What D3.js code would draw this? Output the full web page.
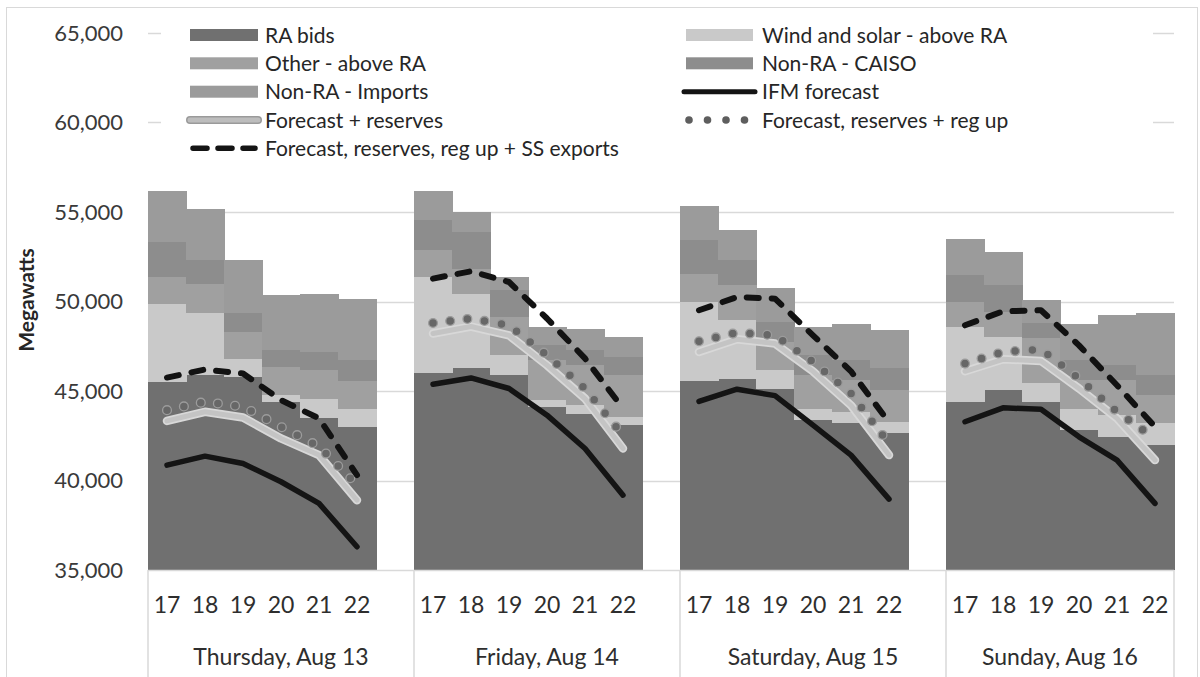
<!DOCTYPE html>
<html><head><meta charset="utf-8">
<script src="https://cdn.jsdelivr.net/npm/d3@7"></script>
<style>html,body{margin:0;padding:0;background:#fff}svg{display:block;font-family:Lato,"Open Sans",sans-serif}</style>
</head><body><div id="chart"></div>
<script>
// ---------------- data ----------------
const days = ["Thursday, Aug 13", "Friday, Aug 14", "Saturday, Aug 15", "Sunday, Aug 16"];
const hours = ["17", "18", "19", "20", "21", "22"];
const yTicks = [35000, 40000, 45000, 50000, 55000, 60000, 65000];

// stacked bar series (MW), order: Thu 17-22, Fri 17-22, Sat 17-22, Sun 17-22
const raBids       = [45510,45920,45770,44390,43510,43000, 46010,46290,45880,44110,43740,43090, 45550,45660,45100,43370,43190,42630, 44390,45040,44390,42810,42440,41980];
const windSolar    = [4370,3440,1000,380,1030,980,   5340,4150,1120,380,470,460,   4420,3290,1060,610,650,650,   4190,2980,1030,1170,1210,1210];
const otherAboveRA = [1490,1640,1510,1580,1620,1570, 1510,1390,2120,2230,2230,2330, 1590,1950,1560,1900,1760,1760, 1390,1390,2530,1620,1950,1580];
const nonRaCaiso   = [1950,1300,1060,930,1020,1170,  1670,2050,1500,840,840,1010,  1850,1400,1120,1120,1120,1230, 1490,1490,830,1120,840,1110];
const nonRaImports = [2830,2880,3000,3070,3260,3400, 1620,1120,750,1020,1170,1130,  1920,1670,1910,1580,2050,2120, 2050,1860,1330,2050,2830,3450];

// line series (MW)
const ifmForecast       = [40860,41360,40950,39930,38720,36300, 45380,45730,45140,43650,41790,39180, 44420,45100,44740,43090,41420,38960, 43280,44060,43980,42440,41140,38720];
const forecastReserves  = [43330,43840,43520,42350,41420,38900, 48210,48600,48110,46440,44580,41790, 47180,47890,47650,46100,44200,41420, 46100,46770,46680,45140,43470,41140];
const forecastRegUp     = [43930,44400,44120,43000,41900,39740, 48800,49050,48670,47000,45140,42530, 47780,48260,48110,46630,44860,42070, 46530,47180,47330,45700,43840,42350];
const forecastSSExports = [45750,46200,45980,44490,43470,40300, 51280,51690,51090,49050,46820,44030, 49510,50250,50160,48110,46100,43250, 48670,49450,49510,47550,45320,43000];

const barNames = ["RA bids", "Wind and solar - above RA", "Other - above RA", "Non-RA - CAISO", "Non-RA - Imports"];
const lineNames = ["IFM forecast", "Forecast + reserves", "Forecast, reserves + reg up", "Forecast, reserves, reg up + SS exports"];

// ---------------- setup ----------------
const W = 1200, H = 677;
const svg = d3.select("#chart").append("svg").attr("width", W).attr("height", H);
svg.append("rect").attr("width", W).attr("height", H).attr("fill", "#fff");
svg.append("rect").attr("x", 6.5).attr("y", 7.5).attr("width", 1191).attr("height", 700)
  .attr("fill", "none").attr("stroke", "#d9d9d9");

const plotL = 148, plotR = 1174, plotT = 33, plotB = 570;

// category slots: 6 hours per day, one blank slot between days
const slots = [];
days.forEach((d, di) => {
  hours.forEach(h => slots.push(di + "|" + h));
  if (di < days.length - 1) slots.push("gap" + di);
});
const x = d3.scaleBand().domain(slots).range([plotL, plotR]).padding(0);
const bw = x.bandwidth();
const y = d3.scaleLinear().domain([35000, 65000]).range([plotB, plotT]).clamp(true);

const rows = [];
days.forEach((d, di) => hours.forEach((h, hi) => {
  const i = di * 6 + hi;
  rows.push({key: di + "|" + h, di, hi, hour: h, ra: raBids[i], ws: windSolar[i], other: otherAboveRA[i], caiso: nonRaCaiso[i], imports: nonRaImports[i]});
}));
const barKeys = ["ra", "ws", "other", "caiso", "imports"];
const barColors = ["#707070", "#c9c9c9", "#a0a0a0", "#8d8d8d", "#9b9b9b"];

// gridlines
svg.append("g").selectAll("line").data(yTicks.filter(t => t > 35000)).join("line")
  .attr("x1", plotL).attr("x2", plotR).attr("y1", d => Math.round(y(d)) + 0.5).attr("y2", d => Math.round(y(d)) + 0.5)
  .attr("stroke", "#d9d9d9").attr("stroke-width", 1.5);

// bars
const stacked = d3.stack().keys(barKeys)(rows);
const gBars = svg.append("g").attr("shape-rendering", "crispEdges");
stacked.forEach((layer, li) => {
  gBars.append("g").attr("fill", barColors[li]).selectAll("rect").data(layer).join("rect")
    .attr("x", d => x(d.data.key)).attr("width", bw + 0.6)
    .attr("y", d => y(d[1])).attr("height", d => Math.max(0, y(d[0]) - y(d[1])));
});

// axis line + separators
svg.append("line").attr("x1", plotL).attr("x2", plotR).attr("y1", plotB + 0.5).attr("y2", plotB + 0.5)
  .attr("stroke", "#d9d9d9").attr("stroke-width", 1.5);
const sepX = [plotL].concat(days.slice(1).map((d, di) => x((di + 1) + "|" + hours[0])), [plotR]);
svg.append("g").selectAll("line").data(sepX).join("line")
  .attr("x1", d => d).attr("x2", d => d).attr("y1", plotB).attr("y2", H)
  .attr("stroke", "#d9d9d9").attr("stroke-width", 1.5);

// y tick labels
svg.append("g").selectAll("text").data(yTicks).join("text")
  .attr("x", 123).attr("y", d => y(d)).attr("dy", "0.36em").attr("text-anchor", "end")
  .attr("font-size", 22).attr("fill", "#3a3a3a").text(d => d3.format(",")(d));

// y title
svg.append("text").attr("transform", "translate(34,300) rotate(-90)").attr("text-anchor", "middle")
  .attr("font-size", 21).attr("font-weight", "bold").attr("fill", "#262626").text("Megawatts");

// hour labels
svg.append("g").selectAll("text").data(rows).join("text")
  .attr("x", d => x(d.key) + bw / 2).attr("y", 613).attr("text-anchor", "middle")
  .attr("font-size", 23).attr("fill", "#2e2e2e").text(d => d.hour);

// day labels
svg.append("g").selectAll("text").data(days).join("text")
  .attr("x", (d, i) => (sepX[i] + sepX[i + 1]) / 2).attr("y", 665).attr("text-anchor", "middle")
  .attr("font-size", 23).attr("fill", "#2e2e2e").text(d => d);

// lines
const line = d3.line().x(d => d[0]).y(d => d[1]);
function dayPts(vals, di) {
  return hours.map((h, hi) => [x(di + "|" + h) + bw / 2, y(vals[di * 6 + hi])]);
}
const gLines = svg.append("g").attr("fill", "none").attr("stroke-linejoin", "round");
days.forEach((d, di) => {
  // Forecast + reserves (light band with soft rim)
  gLines.append("path").attr("d", line(dayPts(forecastReserves, di))).attr("stroke", "#d8d8d8").attr("stroke-width", 8.5).attr("stroke-linecap", "round");
  gLines.append("path").attr("d", line(dayPts(forecastReserves, di))).attr("stroke", "#c4c4c4").attr("stroke-width", 5).attr("stroke-linecap", "round");
  // IFM forecast
  gLines.append("path").attr("d", line(dayPts(ifmForecast, di))).attr("stroke", "#141414").attr("stroke-width", 5.5).attr("stroke-linecap", "round");
  // reg up: round dots placed along the line
  const p = gLines.append("path").attr("d", line(dayPts(forecastRegUp, di))).attr("stroke", "none");
  const node = p.node(), len = node.getTotalLength();
  const dots = [];
  for (let s = 0; s <= len + 0.5; s += 17.3) { const pt = node.getPointAtLength(Math.min(s, len)); dots.push(pt); }
  gLines.append("g").selectAll("circle").data(dots).join("circle")
    .attr("cx", q => q.x).attr("cy", q => q.y).attr("r", 4.4)
    .attr("fill", "#676767").attr("stroke", "#9c9c9c").attr("stroke-width", 1.3);
  // SS exports dashed
  gLines.append("path").attr("d", line(dayPts(forecastSSExports, di))).attr("stroke", "#121212").attr("stroke-width", 6)
    .attr("stroke-linecap", "round").attr("stroke-dasharray", "12,13");
});

// ---------------- legend ----------------
svg.append("rect").attr("x", 161).attr("y", 14).attr("width", 992).attr("height", 152).attr("fill", "#fff");
const rowY = [35, 63.3, 91.7, 120, 148.3];
const legendItems = [
  {name: barNames[0], type: "bar", color: barColors[0], col: 0, row: 0},
  {name: barNames[1], type: "bar", color: barColors[1], col: 1, row: 0},
  {name: barNames[2], type: "bar", color: barColors[2], col: 0, row: 1},
  {name: barNames[3], type: "bar", color: barColors[3], col: 1, row: 1},
  {name: barNames[4], type: "bar", color: barColors[4], col: 0, row: 2},
  {name: lineNames[0], type: "ifm", col: 1, row: 2},
  {name: lineNames[1], type: "fr", col: 0, row: 3},
  {name: lineNames[2], type: "dot", col: 1, row: 3},
  {name: lineNames[3], type: "dash", col: 0, row: 4}
];
const colX = [{s0: 190, s1: 258, t: 265}, {s0: 686, s1: 753, t: 762}];
const gLeg = svg.append("g");
legendItems.forEach(it => {
  const c = colX[it.col], yy = rowY[it.row];
  const g = gLeg.append("g");
  if (it.type === "bar") {
    g.append("rect").attr("x", c.s0).attr("y", yy - 6).attr("width", c.s1 - c.s0).attr("height", 12).attr("fill", it.color);
  } else if (it.type === "ifm") {
    g.append("line").attr("x1", c.s0 - 2).attr("x2", c.s1 + 2).attr("y1", yy).attr("y2", yy).attr("stroke", "#141414").attr("stroke-width", 5).attr("stroke-linecap", "round");
  } else if (it.type === "fr") {
    g.append("line").attr("x1", c.s0).attr("x2", c.s1).attr("y1", yy).attr("y2", yy).attr("stroke", "#9a9a9a").attr("stroke-width", 8).attr("stroke-linecap", "round");
    g.append("line").attr("x1", c.s0).attr("x2", c.s1).attr("y1", yy).attr("y2", yy).attr("stroke", "#bdbdbd").attr("stroke-width", 5).attr("stroke-linecap", "round");
  } else if (it.type === "dot") {
    const xs = d3.range(4).map(k => c.s0 + 3 + k * 18.5);
    g.selectAll("circle").data(xs).join("circle").attr("cx", v => v).attr("cy", yy).attr("r", 3.8).attr("fill", "#5e5e5e");
  } else if (it.type === "dash") {
    g.append("line").attr("x1", c.s0 + 3).attr("x2", c.s1 - 3).attr("y1", yy).attr("y2", yy).attr("stroke", "#141414").attr("stroke-width", 5.5)
      .attr("stroke-linecap", "round").attr("stroke-dasharray", "14,11");
  }
  g.append("text").attr("x", c.t).attr("y", yy).attr("dy", "0.36em").attr("font-size", 21).attr("fill", "#262626").text(it.name);
});
</script></body></html>
